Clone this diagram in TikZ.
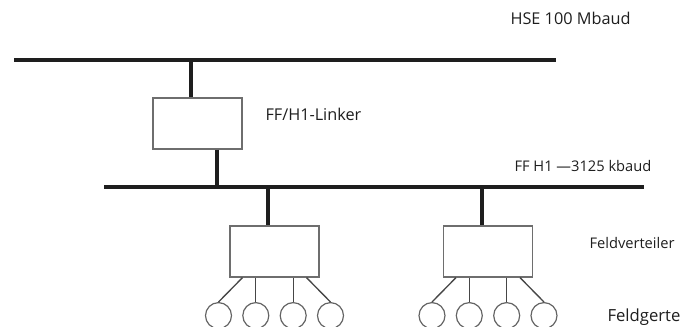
\documentclass[tikz,border=0pt]{standalone}
\usepackage{fontspec}
\setmainfont{Open Sans}
\usepackage{tikz}
\usetikzlibrary{calc}
\tikzset{every picture/.style={line width=0.75pt}}
\tikzset{
  bus/.style={line width=3pt, color={rgb, 255:red, 30; green, 30; blue, 30 }},
  box/.style={draw={rgb, 255:red, 110; green, 110; blue, 110 }, line width=0.9pt, rectangle, minimum width=66.75pt, minimum height=38.25pt, inner sep=0pt},
  geraet/.style={draw={rgb, 255:red, 100; green, 100; blue, 100 }, line width=0.9pt, circle, minimum size=19.5pt, inner sep=0pt},
  stich/.style={line width=1pt, color={rgb, 255:red, 70; green, 70; blue, 70 }},
  lbl/.style={anchor=west, inner sep=0pt, text={rgb, 255:red, 30; green, 30; blue, 30 }, font=\fontsize{11}{13}\selectfont}
}

\begin{document}
\begin{tikzpicture}[x=0.75pt,y=0.75pt,yscale=-1,xscale=1]
\useasboundingbox (0,0) rectangle (682,326);

%Busses
\coordinate (hseL) at (14,60);
\coordinate (hseR) at (556,60);
\coordinate (h1L) at (104,187);
\coordinate (h1R) at (644,187);
\draw [bus] (hseL) -- (hseR) ;
\draw [bus] (h1L) -- (h1R) ;

%Linker
\node [box] (linker) at (197.5,123.5) {};
\coordinate (tapHSE) at (191,60);
\coordinate (tapH1) at (217,187);
\draw [bus] (tapHSE) -- (tapHSE |- linker.north) ;
\draw [bus] (tapH1 |- linker.south) -- (tapH1) ;

%Feldverteiler
\node [box] (fv1) at (274.5,251.5) {};
\node [box] (fv2) at (488,251.5) {};
\coordinate (tapFV1) at (268,187);
\coordinate (tapFV2) at (482,187);
\draw [bus] (tapFV1) -- (tapFV1 |- fv1.north) ;
\draw [bus] (tapFV2) -- (tapFV2 |- fv2.north) ;

%Feldgeraete
\foreach \fv in {fv1,fv2}{
  \foreach \i/\dx/\bx in {1/-56/-32,2/-18.7/-18.7,3/18.7/18.7,4/56/32}{
    \node [geraet] (\fv-g\i) at ($(\fv.south)+(\dx,38)$) {};
    \draw [stich] ($(\fv.south)+(\bx,0)$) -- (\fv-g\i.north) ;
  }
}

%Labels
\node [lbl, font=\fontsize{12.2}{14}\selectfont] (hseLbl) at (510,18) {HSE 100 Mbaud};
\node [lbl, font=\fontsize{12.2}{14}\selectfont] (linkerLbl) at (265,114) {FF/H1-Linker};
\node [lbl] (h1Lbl) at (514,166) {FF H1 ---3125 kbaud};
\node [lbl] (fvLbl) at (589,243) {Feldverteiler};
\node [lbl, font=\fontsize{12.5}{14}\selectfont] (fgLbl) at (607,317) {Feldgerte};

\end{tikzpicture}
\end{document}
